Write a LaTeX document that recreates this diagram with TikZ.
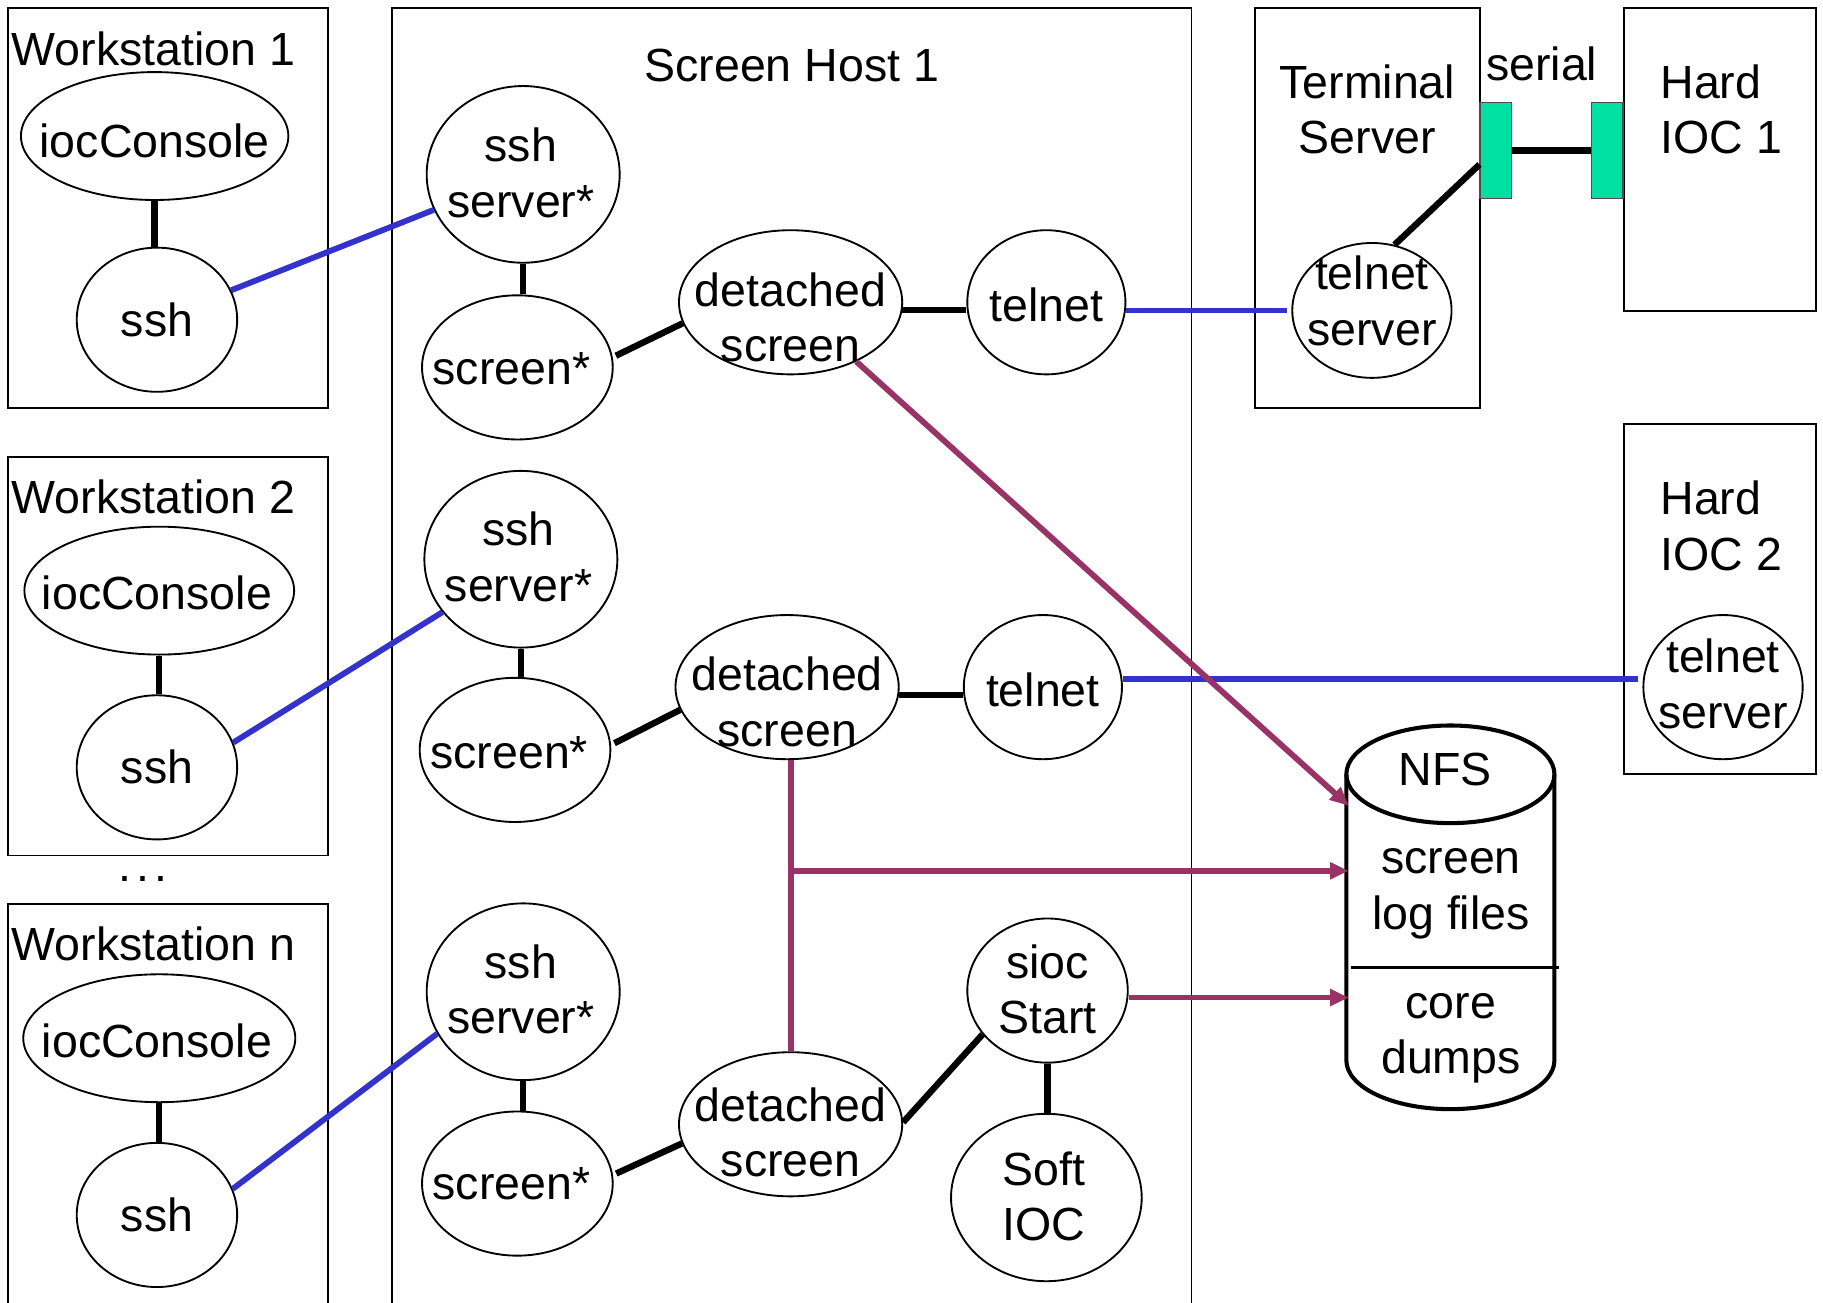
\documentclass[tikz,border=0pt]{standalone}
\usepackage{fontspec}
\setmainfont{Liberation Sans}
\usetikzlibrary{shapes.geometric,arrows.meta}
\definecolor{lnblue}{RGB}{51,51,204}
\definecolor{lnpurple}{RGB}{153,51,102}
\definecolor{serialgreen}{RGB}{0,224,160}
\begin{document}
\begin{tikzpicture}[x=1pt,y=-1pt,
  every node/.style={font=\fontsize{40}{48}\selectfont},
  box/.style 2 args={draw, line width=1.6pt, anchor=north west, inner sep=0pt, minimum width=#1pt, minimum height=#2pt},
  ell/.style 2 args={draw, ellipse, line width=1.6pt, inner sep=0pt, minimum width=#1pt, minimum height=#2pt},
  txt/.style={align=center, inner sep=0pt},
  conn/.style={line width=5.5pt, black},
  net/.style={line width=5pt, lnblue},
  logline/.style={line width=5pt, lnpurple},
  logarrow/.style={logline, -{Triangle[length=16pt,width=14pt]}},
  port/.style={draw=black!70, line width=1pt, fill=serialgreen, inner sep=0pt, minimum width=27pt, minimum height=83pt}
]
\useasboundingbox (0,0) rectangle (1568,1120);
\clip (0,0) rectangle (1568,1120);

% ---------- boxes ----------
\node[box={275}{344}] (w1) at (6,6) {};
\node[box={275}{343}] (w2) at (6,392) {};
\node[box={275}{360}] (wn) at (6,777) {};
\node[box={688}{1130}] (sh) at (336,6) {};
\node[box={193}{344}] (tsb) at (1079,6) {};
\node[box={165}{261}] (h1) at (1396,6) {};
\node[box={165}{301}] (h2) at (1396,364) {};

% ---------- titles ----------
\node[txt, anchor=west] (w1t) at (10,42) {Workstation 1};
\node[txt, anchor=west] (w2t) at (10,427) {Workstation 2};
\node[txt, anchor=west] (wnt) at (10,812) {Workstation n};
\node[anchor=base, inner sep=0pt] (dots) at (123,758) {.\hspace{4pt}.\hspace{4pt}.};
\node[txt] (sht) at (681,56) {Screen Host 1};
\node[txt] (tsbt) at (1176,94) {Terminal\\Server};
\node[txt] (serialt) at (1326,55) {serial};
\node[txt, anchor=west, align=left] (h1t) at (1428,94) {Hard\\IOC 1};
\node[txt, anchor=west, align=left] (h2t) at (1428,452) {Hard\\IOC 2};

% ---------- workstations ----------
\node[ell={230}{110}] (ic1) at (133,117) {};
\node[txt] (ic1t) at (133,121) {iocConsole};
\node[ell={138}{124}] (ssh1) at (135,275) {};
\node[txt] (ssh1t) at (135,275) {ssh};

\node[ell={232}{110}] (ic2) at (137,508) {};
\node[txt] (ic2t) at (135,510) {iocConsole};
\node[ell={138}{124}] (ssh2) at (135,660) {};
\node[txt] (ssh2t) at (135,660) {ssh};

\node[ell={234}{110}] (ic3) at (137,893) {};
\node[txt] (ic3t) at (135,895) {iocConsole};
\node[ell={138}{124}] (ssh3) at (135,1045) {};
\node[txt] (ssh3t) at (135,1045) {ssh};

% ---------- screen host ----------
\node[ell={166}{152}] (ss1) at (450,150) {};
\node[txt] (ss1t) at (448,149) {ssh\\server*};
\node[ell={164}{124}] (sc1) at (445,316) {};
\node[txt] (sc1t) at (440,317) {screen*};
\node[ell={192}{124}] (d1) at (680,260) {};
\node[txt] (d1t) at (680,273) {detached\\screen};
\node[ell={136}{124}] (tn1) at (900,260) {};
\node[txt] (tn1t) at (900,262) {telnet};

\node[ell={166}{152}] (ss2) at (448,481) {};
\node[txt] (ss2t) at (446,479) {ssh\\server*};
\node[ell={164}{124}] (sc2) at (443,645) {};
\node[txt] (sc2t) at (438,647) {screen*};
\node[ell={192}{124}] (d2) at (677,591) {};
\node[txt] (d2t) at (677,604) {detached\\screen};
\node[ell={136}{124}] (tn2) at (897,591) {};
\node[txt] (tn2t) at (897,593) {telnet};

\node[ell={166}{152}] (ss3) at (450,853) {};
\node[txt] (ss3t) at (448,851) {ssh\\server*};
\node[ell={164}{124}] (sc3) at (445,1018) {};
\node[txt] (sc3t) at (440,1018) {screen*};
\node[ell={192}{124}] (d3) at (680,967) {};
\node[txt] (d3t) at (680,974) {detached\\screen};
\node[ell={138}{124}] (si) at (901,852) {};
\node[txt] (sit) at (901,851) {sioc\\Start};
\node[ell={164}{144}] (soft) at (900,1030) {};
\node[txt] (softt) at (898,1029) {Soft\\IOC};

% ---------- terminal server / hard iocs ----------
\node[ell={137}{116}] (ts) at (1180,267) {};
\node[txt] (tst) at (1180,259) {telnet\\server};
\node[port] (g1) at (1286.5,129.5) {};
\node[port] (g2) at (1382.5,129.5) {};
\node[ell={137}{124}] (hts) at (1482,591) {};
\node[txt] (htst) at (1482,588) {telnet\\server};

% ---------- NFS cylinder ----------
\draw[line width=3.5pt] (1158,666) -- (1158,912)
  arc[start angle=180, end angle=360, x radius=89.5pt, y radius=42pt] -- (1337,666);
\draw[line width=3.5pt] (1247.5,666) ellipse [x radius=89.5pt, y radius=42pt];
\draw[line width=3pt] (1162,832) -- (1341,832);
\node[txt] (nfst) at (1243,662) {NFS};
\node[txt] (logt) at (1248,769) {screen\\log files};
\node[txt] (coret) at (1248,893) {core\\dumps};
\coordinate (nfs1) at (1160,693);
\coordinate (nfs2) at (1160,749);
\coordinate (nfs3) at (1160,858);

% ---------- black connectors ----------
\draw[conn] (ic1.south) -- (ic1.south |- ssh1.north);
\draw[conn] (ic2.south) -- (ic2.south |- ssh2.north);
\draw[conn] (ic3.south) -- (ic3.south |- ssh3.north);
\draw[conn] (ss1.south) -- (ss1.south |- sc1.north);
\draw[conn] (ss2.south) -- (ss2.south |- sc2.north);
\draw[conn] (ss3.south) -- (ss3.south |- sc3.north);
\draw[conn] ([xshift=3pt]sc1.7) -- (d1.191);
\draw[conn] ([xshift=3pt]sc2.4) -- (d2.192);
\draw[conn] ([xshift=3pt]sc3.6) -- (d3.190);
\draw[conn] (d1.-4) -- (d1.-4 -| tn1.west);
\draw[conn] (d2.-4) -- (d2.-4 -| tn2.west);
\draw[conn] (d3.1) -- (si.214);
\draw[conn] (si.south) -- (si.south |- soft.north);
\draw[conn] (ts.71) -- ([yshift=-12pt]g1.west);
\draw[conn] (g1.east) -- (g2.west);

% ---------- network (blue) ----------
\draw[net] (ssh1) -- (ss1);
\draw[net] (ssh2.18) -- (ss2.214);
\draw[net] (ssh3.19) -- (ss3.206);
\draw[net] (ts.west -| tn1.east) -- ([xshift=-4pt]ts.west);
\draw[net] ([yshift=7pt]tn2.east) -- ([yshift=7pt,xshift=-4pt]tn2.east -| hts.west);

% ---------- logging (purple) ----------
\draw[logarrow] (d1) -- (nfs1);
\draw[logline] (d3.north) -- (d3.north |- d2.south);
\coordinate (br) at (d3.north |- nfs2);
\draw[logarrow] (br) -- (nfs2);
\draw[logarrow] (si.east |- nfs3) -- (nfs3);
\end{tikzpicture}
\end{document}
